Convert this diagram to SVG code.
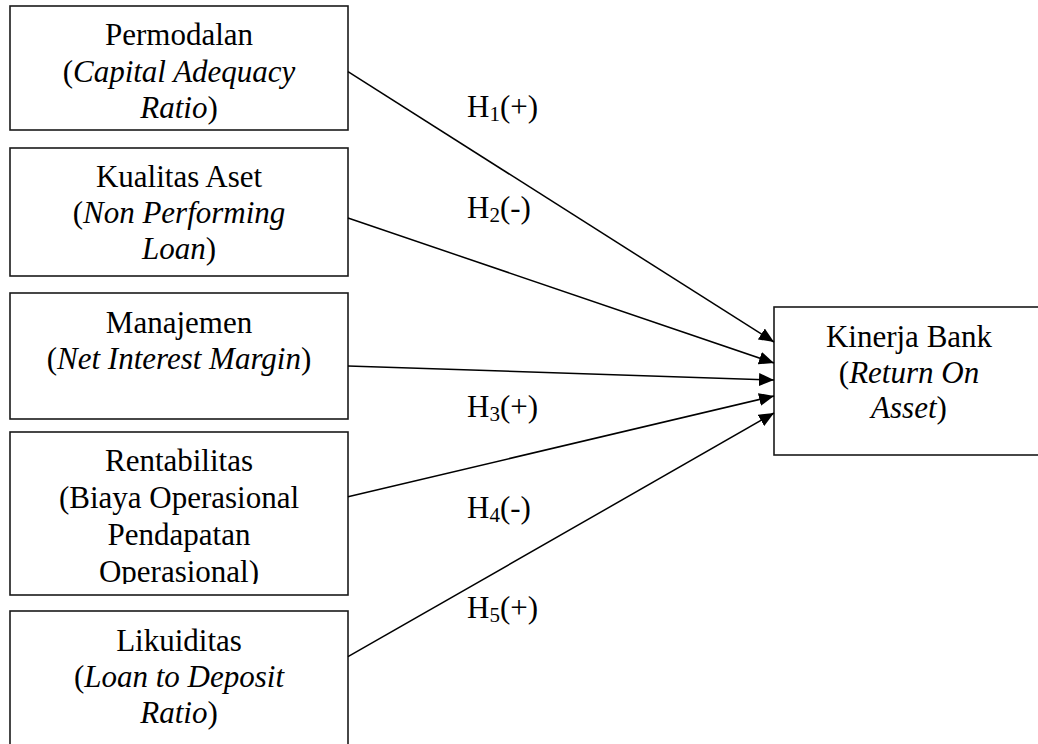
<svg xmlns="http://www.w3.org/2000/svg" width="1038" height="744" viewBox="0 0 1038 744">
<defs>
<style>
.box{fill:#fff;stroke:#1a1a1a;stroke-width:1.6}
.t{font-family:"Liberation Serif","Times New Roman",serif;font-size:31px;fill:#000;text-anchor:middle}
.h{font-family:"Liberation Serif","Times New Roman",serif;font-size:31px;fill:#000}
.sub{font-size:21px}
.i{font-style:italic}
.edge{stroke:#000;stroke-width:1.5;fill:none;marker-end:url(#ah)}
</style>
<marker id="ah" markerWidth="15" markerHeight="13" refX="15" refY="6.5" orient="auto" markerUnits="userSpaceOnUse">
<path d="M0,0 L15,6.5 L0,13 z" fill="#000"/>
</marker>
<clipPath id="c4"><rect x="10" y="432" width="338" height="152"/></clipPath>
</defs>
<rect width="1038" height="744" fill="#fff"/>
<g id="n1">
<rect class="box" x="10" y="6" width="338" height="124"/>
<text class="t" x="179" y="45">Permodalan</text>
<text class="t" x="179" y="82">(<tspan class="i">Capital Adequacy</tspan></text>
<text class="t" x="179" y="118"><tspan class="i">Ratio</tspan>)</text>
</g>
<g id="n2">
<rect class="box" x="10" y="148" width="338" height="128"/>
<text class="t" x="179" y="187">Kualitas Aset</text>
<text class="t" x="179" y="223">(<tspan class="i">Non Performing</tspan></text>
<text class="t" x="179" y="259"><tspan class="i">Loan</tspan>)</text>
</g>
<g id="n3">
<rect class="box" x="10" y="293" width="338" height="126"/>
<text class="t" x="179" y="333">Manajemen</text>
<text class="t" x="179" y="369">(<tspan class="i">Net Interest Margin</tspan>)</text>
</g>
<g id="n4">
<rect class="box" x="10" y="432" width="338" height="163"/>
<g clip-path="url(#c4)">
<text class="t" x="179" y="471">Rentabilitas</text>
<text class="t" x="179" y="508">(Biaya Operasional</text>
<text class="t" x="179" y="545">Pendapatan</text>
<text class="t" x="179" y="582">Operasional)</text>
</g>
</g>
<g id="n5">
<rect class="box" x="10" y="611" width="338" height="150"/>
<text class="t" x="179" y="651">Likuiditas</text>
<text class="t" x="179" y="687">(<tspan class="i">Loan to Deposit</tspan></text>
<text class="t" x="179" y="723"><tspan class="i">Ratio</tspan>)</text>
</g>
<g id="n6">
<rect class="box" x="774" y="307" width="280" height="148"/>
<text class="t" x="909" y="347">Kinerja Bank</text>
<text class="t" x="909" y="383">(<tspan class="i">Return On</tspan></text>
<text class="t" x="909" y="418"><tspan class="i">Asset</tspan>)</text>
</g>
<g id="connectors">
<line class="edge" x1="348" y1="71.7" x2="774" y2="342"/>
<line class="edge" x1="348" y1="218" x2="774" y2="363"/>
<line class="edge" x1="348" y1="366" x2="774" y2="380"/>
<line class="edge" x1="348" y1="496.7" x2="774" y2="396"/>
<line class="edge" x1="348" y1="656.7" x2="774" y2="413"/>
</g>
<g id="labels">
<text class="h" x="467" y="117">H<tspan class="sub" dy="4">1</tspan><tspan dy="-4">(+)</tspan></text>
<text class="h" x="467" y="218">H<tspan class="sub" dy="4">2</tspan><tspan dy="-4">(-)</tspan></text>
<text class="h" x="467" y="417">H<tspan class="sub" dy="4">3</tspan><tspan dy="-4">(+)</tspan></text>
<text class="h" x="467" y="518">H<tspan class="sub" dy="4">4</tspan><tspan dy="-4">(-)</tspan></text>
<text class="h" x="467" y="618">H<tspan class="sub" dy="4">5</tspan><tspan dy="-4">(+)</tspan></text>
</g>
</svg>
